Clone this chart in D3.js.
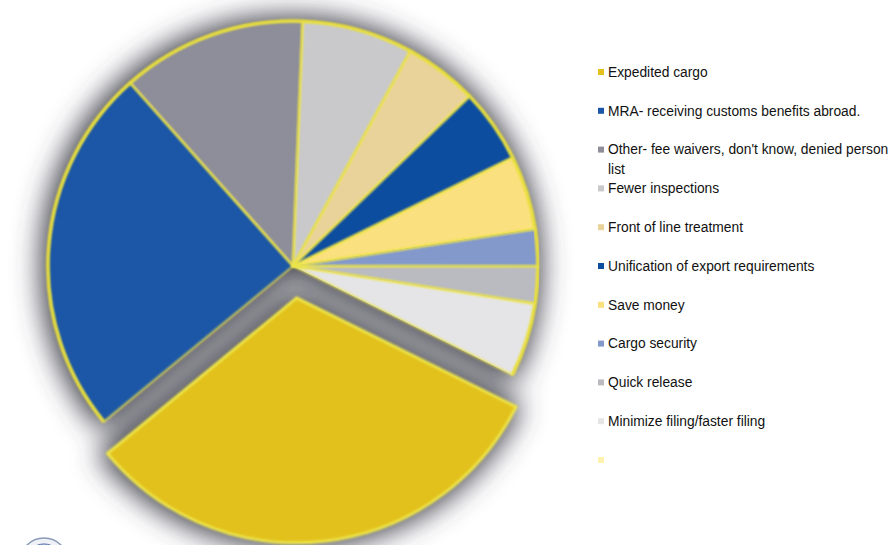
<!DOCTYPE html>
<html>
<head>
<meta charset="utf-8">
<script src="https://cdn.jsdelivr.net/npm/d3@7"></script>
<style>
  html, body { margin: 0; padding: 0; background: #fff; }
  svg { display: block; }
</style>
</head>
<body>
<svg id="chart" width="890" height="545"></svg>
<script>
// ---- data ----
const categories = [
  "Expedited cargo",
  "MRA- receiving customs benefits abroad.",
  "Other- fee waivers, don't know, denied person list",
  "Fewer inspections",
  "Front of line treatment",
  "Unification of export requirements",
  "Save money",
  "Cargo security",
  "Quick release",
  "Minimize filing/faster filing",
  ""
];
const values = [13, 10, 5, 3, 2, 2, 2, 1, 1, 2, 0];
const colors = ["#E2C11F", "#1B57A6", "#8E8E9B", "#C9C9CC", "#E9D39B", "#0B4DA0",
                "#FBE07F", "#8399CC", "#B9BBC1", "#E5E5E7", "#FFF3AE"];
const exploded = [32, 0, 0, 0, 0, 0, 0, 0, 0, 0, 0];
const firstSliceAngle = 116.4; // degrees, clockwise from 12 o'clock

// ---- layout ----
const svg = d3.select("#chart");
const cx = 293, cy = 266, R = 245;

const defs = svg.append("defs");
const shadow = defs.append("filter").attr("id", "shadow")
  .attr("x", "-30%").attr("y", "-30%").attr("width", "160%").attr("height", "160%");
shadow.append("feMorphology").attr("in", "SourceAlpha").attr("operator", "dilate").attr("radius", 5).attr("result", "dil");
shadow.append("feGaussianBlur").attr("in", "dil").attr("stdDeviation", 14).attr("result", "blur");
shadow.append("feOffset").attr("in", "blur").attr("dx", -2).attr("dy", 0).attr("result", "off");
shadow.append("feFlood").attr("flood-color", "#3e3e4a").attr("flood-opacity", 1).attr("result", "col");
shadow.append("feComposite").attr("in", "col").attr("in2", "off").attr("operator", "in").attr("result", "sh");
const merge = shadow.append("feMerge");
merge.append("feMergeNode").attr("in", "sh");
merge.append("feMergeNode").attr("in", "SourceGraphic");

const glow = defs.append("filter").attr("id", "glow")
  .attr("x", "-10%").attr("y", "-10%").attr("width", "120%").attr("height", "120%");
glow.append("feGaussianBlur").attr("in", "SourceGraphic").attr("stdDeviation", 0.8);

const a0 = firstSliceAngle * Math.PI / 180;
const pie = d3.pie().sort(null).value(d => d)
  .startAngle(a0).endAngle(a0 + 2 * Math.PI);
const arcs = pie(values);
const arc = d3.arc().innerRadius(0).outerRadius(R);

function offset(d, i) {
  const m = (d.startAngle + d.endAngle) / 2;
  return [Math.sin(m) * exploded[i], -Math.cos(m) * exploded[i]];
}

const g = svg.append("g").attr("transform", `translate(${cx},${cy})`).attr("filter", "url(#shadow)");

const slices = g.selectAll("g.slice").data(arcs).join("g")
  .attr("class", "slice")
  .attr("transform", (d, i) => { const o = offset(d, i); return `translate(${o[0]},${o[1]})`; });

slices.append("path")
  .attr("d", arc)
  .attr("fill", (d, i) => colors[i])
  .attr("stroke", "none");

// yellow outline with slight glow
const outline = svg.append("g").attr("transform", `translate(${cx},${cy})`);
outline.selectAll("path").data(arcs).join("path")
  .attr("transform", (d, i) => { const o = offset(d, i); return `translate(${o[0]},${o[1]})`; })
  .attr("d", arc)
  .attr("fill", "none")
  .attr("stroke", "#ECE44A")
  .attr("stroke-width", (d, i) => exploded[i] ? 3 : 1.6)
  .attr("stroke-linejoin", "round")
  .attr("filter", "url(#glow)")
  .attr("display", d => d.value > 0 ? null : "none");

// outer rim of main pie
const rimArc = d3.arc().innerRadius(R).outerRadius(R);
outline.selectAll("path.rim").data(arcs.filter((d, i) => !exploded[i] && d.value > 0)).join("path")
  .attr("class", "rim")
  .attr("d", rimArc)
  .attr("fill", "none")
  .attr("stroke", "#E8DF3A")
  .attr("stroke-width", 3)
  .attr("filter", "url(#glow)");

// ---- legend ----
const legend = svg.append("g").attr("transform", "translate(598,72)");
const rowH = 38.8;
const item = legend.selectAll("g").data(categories).join("g")
  .attr("transform", (d, i) => `translate(0,${i * rowH})`);
item.append("rect")
  .attr("x", 0).attr("y", -3).attr("width", 6).attr("height", 6)
  .attr("fill", (d, i) => colors[i]);
item.each(function(d) {
  const t = d3.select(this).append("text")
    .attr("x", 10).attr("y", 0)
    .attr("font-family", "Liberation Sans, Arial, sans-serif")
    .attr("font-size", 13.8)
    .attr("fill", "#111");
  const maxW = 300;
  const words = d.split(" ");
  let line = [];
  let tspan = t.append("tspan").attr("x", 10).attr("dy", "0.35em");
  for (const w of words) {
    line.push(w);
    tspan.text(line.join(" "));
    if (tspan.node().getComputedTextLength() > maxW && line.length > 1) {
      line.pop();
      tspan.text(line.join(" "));
      line = [w];
      tspan = t.append("tspan").attr("x", 10).attr("dy", "1.4em").text(w);
    }
  }
});

// partial seal at bottom-left
const seal = svg.append("g").attr("transform", "translate(44,562)");
seal.append("circle").attr("r", 24).attr("fill", "#eef1f6").attr("stroke", "#8a9bb8").attr("stroke-width", 1.5);
seal.append("circle").attr("r", 18).attr("fill", "none").attr("stroke", "#4a66a0").attr("stroke-width", 1);
</script>
</body>
</html>
